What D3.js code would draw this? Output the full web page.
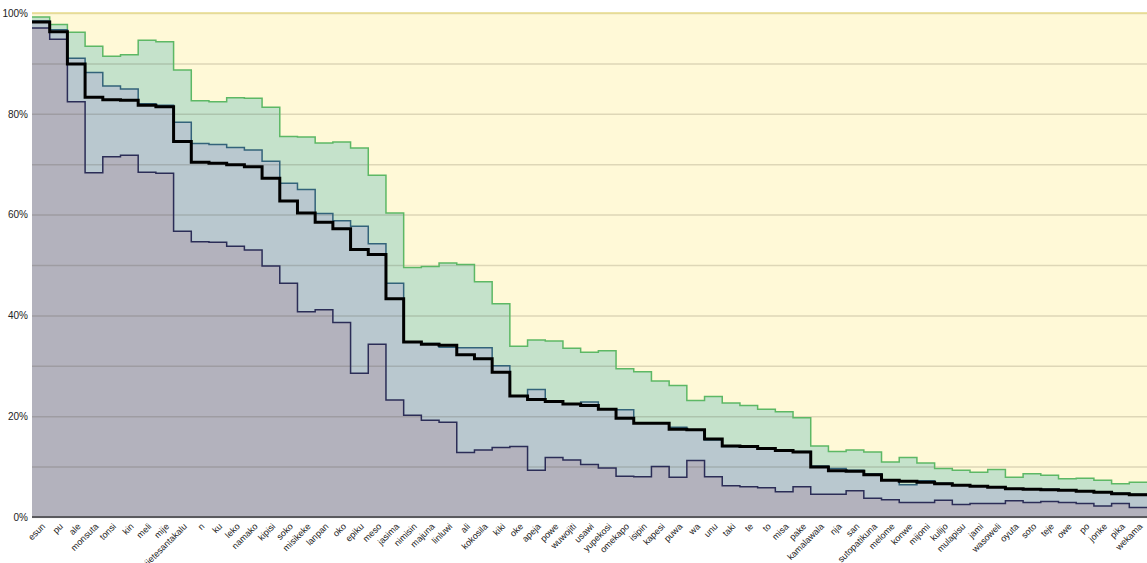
<!DOCTYPE html>
<html>
<head>
<meta charset="utf-8">
<script src="https://cdn.jsdelivr.net/npm/d3@7"></script>
<style>
  html, body { margin: 0; padding: 0; background: #ffffff; }
  svg { display: block; }
  text { font-family: "Liberation Sans", Arial, Helvetica, sans-serif; }
</style>
</head>
<body>
<svg id="chart" width="1147" height="563"></svg>
<script>
// Words, ordered by share of use
const categories = ["esun","pu","ale","monsuta","tonsi","kin","meli","mije","kijetesantakalu","n",
  "ku","leko","namako","kipisi","soko","misikeke","lanpan","oko","epiku","meso",
  "jasima","nimisin","majuna","linluwi","ali","kokosila","kiki","oke","apeja","powe",
  "wuwojiti","usawi","yupekosi","omekapo","isipin","kapesi","puwa","wa","unu","taki",
  "te","to","misa","pake","kamalawala","nja","san","sutopatikuna","melome","konwe",
  "mijomi","kulijo","mulapisu","jami","wasoweli","oyuta","soto","teje","owe","po",
  "jonke","pika","wekama"];

// Upper band (green)
const upper = [99.2,97.7,96.2,93.4,91.4,91.7,94.6,94.3,88.7,82.6,
  82.4,83.2,83.1,81.3,75.5,75.4,74.2,74.4,73.2,67.8,
  60.3,49.5,49.7,50.4,50.1,46.7,42.3,33.9,35.1,34.9,
  33.5,32.7,33.0,29.4,28.8,27.0,26.1,23.1,23.9,22.6,
  22.1,21.4,20.9,19.7,14.1,13.0,13.3,12.9,10.9,11.8,
  10.7,9.6,9.3,8.9,9.4,7.9,8.6,8.3,7.6,7.7,
  7.3,6.6,6.9];

// Middle band (blue)
const middle = [98.4,96.7,91.0,88.2,85.5,84.9,82.0,81.7,78.3,74.1,
  73.9,73.3,72.8,70.6,66.2,65.0,60.2,58.8,57.7,54.2,
  46.4,34.7,34.4,33.7,33.6,33.6,30.0,24.0,25.3,23.0,
  22.4,22.8,21.5,21.3,18.6,18.6,17.8,17.3,15.3,14.0,
  14.0,13.6,13.3,13.0,10.1,9.6,9.3,8.6,7.4,6.4,
  7.2,6.7,6.3,6.1,5.9,5.6,5.6,5.5,5.4,5.2,
  4.9,4.7,4.5];

// Median (thick black line)
const median = [98.2,96.3,89.9,83.3,82.8,82.7,81.7,81.4,74.5,70.4,
  70.2,69.9,69.5,67.2,62.7,60.3,58.5,57.2,53.1,52.1,
  43.3,34.7,34.3,34.1,32.2,31.4,28.7,24.0,23.3,22.9,
  22.4,22.1,21.4,19.6,18.6,18.6,17.4,17.3,15.5,14.1,
  14.0,13.6,13.2,12.9,9.9,9.2,9.1,8.4,7.3,7.1,
  6.9,6.6,6.3,6.1,5.9,5.6,5.5,5.4,5.3,5.1,
  4.9,4.6,4.4];

// Lower band (grey)
const lower = [97.0,94.8,82.4,68.3,71.5,71.8,68.4,68.2,56.7,54.6,
  54.5,53.7,53.0,49.8,46.4,40.7,41.1,38.6,28.5,34.3,
  23.2,20.2,19.2,18.8,12.8,13.3,13.8,14.0,9.3,11.8,
  11.3,10.4,9.7,8.1,8.0,10.0,7.9,11.2,8.0,6.2,
  6.0,5.8,5.0,6.0,4.5,4.5,5.2,3.7,3.4,2.9,
  2.9,3.3,2.5,2.7,2.7,3.2,2.9,3.1,2.9,2.7,
  2.2,2.7,1.9];

// Full range (yellow ceiling)
const ceiling = categories.map(() => 100);

const gridTicks = [0,10,20,30,40,50,60,70,80,90,100];
const labelTicks = [0,20,40,60,80,100];

const margin = { left: 32, right: 0, top: 13, bottom: 46 };
const W = 1147, H = 563;

const svg = d3.select("#chart");

const x = d3.scaleBand().domain(categories).range([margin.left, W - margin.right]).padding(0);
const y = d3.scaleLinear().domain([0, 100]).range([H - margin.bottom, margin.top]);

// Step points: each value spans its whole band, with a closing point at the end
function stepPoints(values) {
  const pts = categories.map((c, i) => [x(c), values[i]]);
  const last = categories[categories.length - 1];
  pts.push([x(last) + x.bandwidth(), values[values.length - 1]]);
  return pts;
}

const area = d3.area()
  .curve(d3.curveStepAfter)
  .x(d => d[0]).y0(y(0)).y1(d => y(d[1]));
const line = d3.line()
  .curve(d3.curveStepAfter)
  .x(d => d[0]).y(d => y(d[1]));

const layers = [
  { values: ceiling, fill: "#fff9d7", stroke: "#e9dd8c", width: 1.5 },
  { values: upper,   fill: "#c5e2cb", stroke: "#5db865", width: 1.5 },
  { values: middle,  fill: "#b9c8cf", stroke: "#33637a", width: 1.5 },
  { values: lower,   fill: "#b3b2bd", stroke: "#2b2d57", width: 1.5 }
];

const gFill = svg.append("g");
layers.forEach(l => {
  gFill.append("path").attr("d", area(stepPoints(l.values))).attr("fill", l.fill);
});

// Horizontal gridlines
const grid = svg.append("g")
  .attr("transform", `translate(${margin.left},0)`)
  .call(d3.axisLeft(y).tickValues(gridTicks).tickSize(-(W - margin.left - margin.right)).tickFormat(""));
grid.select(".domain").remove();
grid.selectAll(".tick line").attr("stroke", "rgba(60,50,30,0.17)").attr("stroke-width", 1.5);

const gLines = svg.append("g");
layers.forEach((l, i) => {
  if (i === 0) return;
  gLines.append("path").attr("d", line(stepPoints(l.values)))
    .attr("fill", "none").attr("stroke", l.stroke).attr("stroke-width", l.width);
});
// ceiling line at 100%
gLines.append("path").attr("d", line(stepPoints(ceiling)))
  .attr("fill", "none").attr("stroke", layers[0].stroke).attr("stroke-width", 1.5);

// Median line
gLines.append("path").attr("d", line(stepPoints(median)))
  .attr("fill", "none").attr("stroke", "#000").attr("stroke-width", 3);

// Baseline
svg.append("line")
  .attr("x1", margin.left).attr("x2", W - margin.right)
  .attr("y1", y(0)).attr("y2", y(0))
  .attr("stroke", "#5a5a5e").attr("stroke-width", 2);

// Y axis labels
const yAxis = svg.append("g")
  .attr("transform", `translate(${margin.left - 4},0)`)
  .call(d3.axisLeft(y).tickValues(labelTicks).tickSize(0).tickPadding(0).tickFormat(d => d + "%"));
yAxis.select(".domain").remove();
yAxis.selectAll("text").attr("font-size", 10).attr("fill", "#222")
  .style("font-family", "'Liberation Sans', Arial, sans-serif");

// X axis labels
const xAxis = svg.append("g")
  .attr("transform", `translate(0,${y(0)})`)
  .call(d3.axisBottom(x).tickSize(0).tickPadding(0));
xAxis.select(".domain").remove();
xAxis.selectAll("text")
  .attr("font-size", 9)
  .attr("fill", "#222")
  .style("font-family", "'Liberation Sans', Arial, sans-serif")
  .attr("text-anchor", "end")
  .attr("dy", null)
  .attr("y", 0)
  .attr("transform", "translate(5,10) rotate(-45)");
</script>
</body>
</html>
